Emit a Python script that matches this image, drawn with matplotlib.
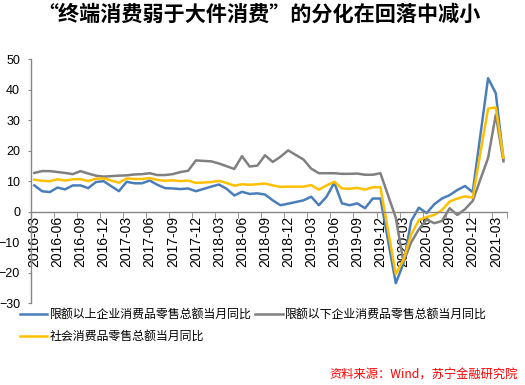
import numpy as np
import pandas as pd
import matplotlib
matplotlib.use("Agg")
import matplotlib.pyplot as plt
from matplotlib.ticker import FixedLocator

plt.rcParams['font.family'] = ['Liberation Sans', 'Noto Sans CJK SC']

# months (no January: Jan-Feb are reported together)
months = (["2016-%02d" % m for m in range(3, 13)]
          + ["2017-%02d" % m for m in range(2, 13)]
          + ["2018-%02d" % m for m in range(2, 13)]
          + ["2019-%02d" % m for m in range(2, 13)]
          + ["2020-%02d" % m for m in range(2, 13)]
          + ["2021-02", "2021-03", "2021-04"])

above = [8.6, 6.7, 6.4, 7.9, 7.3, 8.6, 8.6, 7.7, 9.7, 10.0,
         6.7, 9.8, 9.3, 9.3, 10.2, 8.8, 7.7, 7.6, 7.4, 7.6, 6.7,
         8.2, 8.9, 7.5, 5.3, 6.5, 5.8, 6.0, 5.6, 3.7, 2.1, 2.6,
         3.7, 4.9, 2.1, 4.9, 9.5, 2.7, 2.1, 2.7, 1.1, 4.3, 4.3,
         -23.5, -17.0, -3.1, 1.3, -0.5, 2.4, 4.3, 5.4, 7.1, 8.4, 6.4,
         43.8, 38.9, 17.1]

below = [12.7, 13.3, 13.3, 13.0, 12.7, 12.3, 13.3, 12.5, 11.8, 11.5,
         11.8, 11.9, 12.2, 12.3, 12.6, 12.0, 12.0, 12.3, 13.0, 13.4, 16.8,
         16.5, 15.8, 14.9, 14.0, 18.2, 14.8, 15.1, 18.5, 16.3, 18.0, 20.1,
         17.1, 14.1, 12.6, 12.6, 12.6, 12.4, 12.4, 12.5, 12.1, 12.1, 12.6,
         -2.0, -16.5, -10.1, -5.8, -2.6, -3.8, -3.1, 1.1, -1.1, 0.8, 3.5,
         17.6, 31.8, 16.5]

total = [10.5, 10.1, 10.0, 10.6, 10.2, 10.6, 10.7, 10.0, 10.8, 10.9,
         9.5, 10.9, 10.7, 10.7, 11.0, 10.4, 10.1, 10.3, 10.0, 10.2, 9.4,
         9.7, 10.1, 9.4, 8.5, 9.0, 8.8, 9.0, 9.2, 8.6, 8.1, 8.2,
         8.2, 8.7, 7.2, 8.6, 9.8, 7.6, 7.5, 7.8, 7.2, 8.0, 8.0,
         -20.5, -15.8, -7.5, -2.8, -1.8, -1.1, 0.5, 3.3, 4.3, 5.0, 4.6,
         33.8, 34.2, 17.7]

labels = ["限额以上企业消费品零售总额当月同比", "限额以下企业消费品零售总额当月同比",
          "社会消费品零售总额当月同比"]
title = "“终端消费弱于大件消费”的分化在回落中减小"
source = "资料来源：Wind，苏宁金融研究院"

# month index counted from 2016-03
per = pd.PeriodIndex(months, freq="M")
start = pd.Period("2016-03", freq="M")
x = np.array([(p - start).n for p in per])
n_slots = (pd.Period("2021-04", freq="M") - start).n + 1
tick_idx = list(range(0, n_slots, 3))
tick_lab = [str(start + i) for i in tick_idx]

fig = plt.figure(figsize=(5.25, 3.85), dpi=100)
ax = fig.add_axes([30.5 / 525, 1 - 303 / 385, (507.3 - 30.5) / 525, (303 - 59.3) / 385])

ax.plot(x, above, color="#4a7ebb", lw=1.8, label=labels[0])
ax.plot(x, below, color="#808080", lw=1.8, label=labels[1])
ax.plot(x, total, color="#ffc000", lw=1.8, label=labels[2])

ax.set_xlim(-0.5, n_slots - 0.5)
ax.set_ylim(-30, 50)
ax.set_yticks(range(-30, 51, 10))

ax.spines['top'].set_visible(False)
ax.spines['right'].set_visible(False)
ax.spines['bottom'].set_position(('data', 0))
for s in ('left', 'bottom'):
    ax.spines[s].set_color("#868686")
    ax.spines[s].set_linewidth(1.0)

ax.set_xticks(tick_idx)
ax.set_xticklabels(tick_lab, rotation=90, fontsize=10)
ax.xaxis.set_minor_locator(FixedLocator([i - 0.5 for i in tick_idx] + [n_slots - 0.5]))
ax.tick_params(axis='x', which='major', length=0, pad=3)
ax.tick_params(axis='x', which='minor', length=4, color="#868686", direction='out')
ax.tick_params(axis='y', length=2.5, color="#868686", direction='out', labelsize=9, pad=5)

h, l = ax.get_legend_handles_labels()
order = [0, 2, 1]
fig.legend([h[i] for i in order], [l[i] for i in order], ncol=2, frameon=False,
           loc='upper left', bbox_to_anchor=(20 / 525, 1 - 308 / 385),
           borderpad=0, borderaxespad=0, handlelength=2.3,
           handletextpad=0.2, columnspacing=0.3, labelspacing=0.75,
           prop={'family': ['Noto Sans CJK SC'], 'size': 8.6})

fig.text(0.493, 1 - 14 / 385, title, ha='center', va='center', fontsize=15.2,
         fontweight='bold', family=['Noto Sans CJK SC'])
fig.text(518 / 525, 1 - 375 / 385, source, ha='right', va='center', fontsize=8.8,
         color='red', style='italic', family=['Noto Sans CJK SC', 'Liberation Sans'])

fig.savefig("out.png", dpi=100)
